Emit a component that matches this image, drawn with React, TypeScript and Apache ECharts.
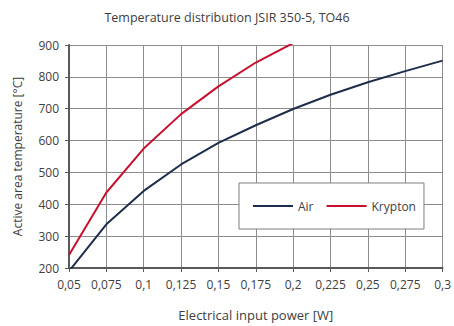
import React, { useEffect, useRef } from "react";
import * as echarts from "echarts";

const powerW = [0.05, 0.075, 0.1, 0.125, 0.15, 0.175, 0.2, 0.225, 0.25, 0.275, 0.3];
const airTemp = [190, 337, 442, 525, 593, 648, 699, 744, 783, 818, 851];
const kryptonPower = [0.05, 0.075, 0.1, 0.125, 0.15, 0.175, 0.2];
const kryptonTemp = [241, 437, 575, 683, 770, 845, 906];
const xTickLabels = ["0,05", "0,075", "0,1", "0,125", "0,15", "0,175", "0,2", "0,225", "0,25", "0,275", "0,3"];

const FONT = "Open Sans";

export default function App() {
  const ref = useRef<HTMLDivElement>(null);
  useEffect(() => {
    const chart = echarts.init(ref.current!, null, { renderer: "svg" });
    chart.setOption({
      animation: false,
      backgroundColor: "#ffffff",
      title: {
        text: "Temperature distribution JSIR 350-5, TO46",
        left: "center",
        top: 6,
        textStyle: { fontFamily: FONT, fontSize: 12.5, fontWeight: "normal", color: "#404040" },
      },
      legend: {
        left: 239,
        top: 183,
        orient: "horizontal",
        backgroundColor: "#ffffff",
        borderColor: "#7f7f7f",
        borderWidth: 1,
        padding: [17, 8, 17, 14],
        itemGap: 13,
        itemWidth: 40,
        itemHeight: 2,
        icon: "rect",
        textStyle: { fontFamily: FONT, fontSize: 12, color: "#404040" },
        data: ["Air", "Krypton"],
      },
      grid: { left: 69, right: 10, top: 45, bottom: 57 },
      xAxis: {
        type: "value",
        min: 0.05,
        max: 0.3,
        interval: 0.025,
        name: "Electrical input power [W]",
        nameLocation: "middle",
        nameGap: 40,
        nameTextStyle: { fontFamily: FONT, fontSize: 13, color: "#404040" },
        axisLine: { show: true, lineStyle: { color: "#595959", width: 2 } },
        axisTick: { show: true, length: 4, lineStyle: { color: "#595959", width: 1 } },
        axisLabel: {
          fontFamily: FONT,
          fontSize: 12,
          color: "#404040",
          margin: 10,
          formatter: (v: number) => {
            const i = Math.round((v - 0.05) / 0.025);
            return xTickLabels[i] ?? "";
          },
        },
        splitLine: { show: true, lineStyle: { color: "#8c8c8c", width: 1 } },
      },
      yAxis: {
        type: "value",
        min: 200,
        max: 900,
        interval: 100,
        name: "Active area temperature [°C]",
        nameLocation: "middle",
        nameGap: 46,
        nameTextStyle: { fontFamily: FONT, fontSize: 12, color: "#404040" },
        axisLine: { show: true, lineStyle: { color: "#595959", width: 2 } },
        axisTick: { show: true, length: 4, lineStyle: { color: "#595959", width: 1 } },
        axisLabel: { fontFamily: FONT, fontSize: 12, color: "#404040", margin: 10 },
        splitLine: { show: true, lineStyle: { color: "#8c8c8c", width: 1 } },
      },
      series: [
        {
          name: "Air",
          type: "line",
          data: powerW.map((x, i) => [x, airTemp[i]]),
          showSymbol: false,
          symbol: "none",
          clip: true,
          lineStyle: { color: "#1f2d4d", width: 2 },
          itemStyle: { color: "#1f2d4d" },
        },
        {
          name: "Krypton",
          type: "line",
          data: kryptonPower.map((x, i) => [x, kryptonTemp[i]]),
          showSymbol: false,
          symbol: "none",
          clip: true,
          lineStyle: { color: "#c8102e", width: 2 },
          itemStyle: { color: "#c8102e" },
        },
      ],
    });
    return () => chart.dispose();
  }, []);
  return <div ref={ref} style={{ width: 454, height: 326, position: "fixed", left: 0, top: 0 }} />;
}
